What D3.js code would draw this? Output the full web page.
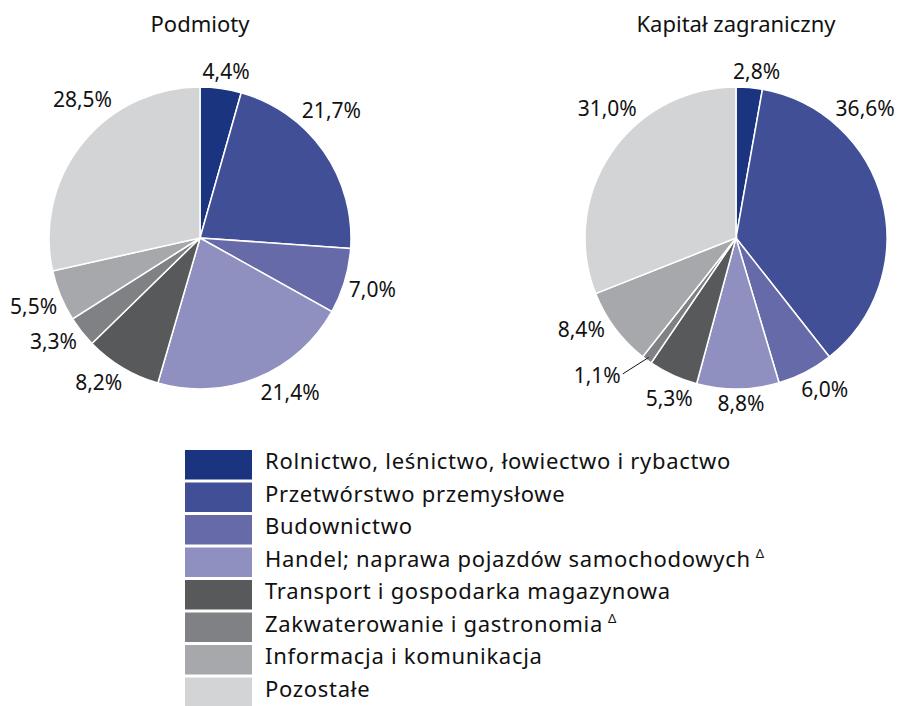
<!DOCTYPE html>
<html>
<head>
<meta charset="utf-8">
<script src="https://cdn.jsdelivr.net/npm/d3@7"></script>
<style>
  body { margin: 0; background: #fff; }
  svg { display: block; font-family: "Noto Sans", sans-serif; }
</style>
</head>
<body>
<svg id="chart" width="901" height="706"></svg>
<script>
// Data
const categories = [
  "Rolnictwo, leśnictwo, łowiectwo i rybactwo",
  "Przetwórstwo przemysłowe",
  "Budownictwo",
  "Handel; naprawa pojazdów samochodowych Δ",
  "Transport i gospodarka magazynowa",
  "Zakwaterowanie i gastronomia Δ",
  "Informacja i komunikacja",
  "Pozostałe"
];
const podmioty = [4.4, 21.7, 7.0, 21.4, 8.2, 3.3, 5.5, 28.5];
const kapital = [2.8, 36.6, 6.0, 8.8, 5.3, 1.1, 8.4, 31.0];
const titles = ["Podmioty", "Kapitał zagraniczny"];
const colors = ["#1a3480", "#414f96", "#666aa8", "#8f90c0", "#58595b", "#808184", "#a7a8ab", "#d3d4d6"];

// label nudges in degrees (like dragged labels in the original)
const shiftPodmioty = [1, -9, 0, -8, 4, 3, 0, 11];
const shiftKapital = [2, -31, -3, -1, -2, 9, 6, 11];

const svg = d3.select("#chart");
const radius = 151;
const cy = 238;

const pie = d3.pie().sort(null).value(d => d);
const arc = d3.arc().innerRadius(0).outerRadius(radius);
const fmt = v => d3.format(".1f")(v).replace(".", ",") + "%";

function drawPie(values, shifts, cx, title) {
  const g = svg.append("g").attr("transform", `translate(${cx},${cy})`);

  svg.append("text")
    .attr("x", cx).attr("y", 32)
    .attr("text-anchor", "middle")
    .attr("font-size", 22)
    .attr("fill", "#111")
    .text(title);

  const arcs = pie(values);

  g.selectAll("path.slice")
    .data(arcs)
    .join("path")
    .attr("class", "slice")
    .attr("d", arc)
    .attr("fill", (d, i) => colors[i])
    .attr("stroke", "#fff")
    .attr("stroke-width", 1.5);

  arcs.forEach((d, i) => {
    const mid = (d.startAngle + d.endAngle) / 2;
    const a = mid + shifts[i] * Math.PI / 180;
    const t = g.append("text")
      .attr("text-anchor", "middle")
      .attr("dy", "0.36em")
      .attr("font-size", 21)
      .attr("fill", "#111")
      .text(fmt(d.data));
    const bb = t.node().getBBox();
    const small = d.data < 2;
    const gap = small ? 20 : 3;
    const dist = radius + gap + Math.abs(Math.sin(a)) * bb.width / 2 + Math.abs(Math.cos(a)) * bb.height / 2 * 0.8;
    const x = Math.sin(a) * dist, y = -Math.cos(a) * dist;
    t.attr("x", x).attr("y", y);
    if (small) {
      // leader line from label to slice edge
      const ex = Math.sin(mid) * (radius - 3), ey = -Math.cos(mid) * (radius - 3);
      g.append("line")
        .attr("x1", x + bb.width / 2 + 2).attr("y1", y - 2)
        .attr("x2", ex).attr("y2", ey)
        .attr("stroke", "#111").attr("stroke-width", 1);
    }
  });
}

drawPie(podmioty, shiftPodmioty, 200, titles[0]);
drawPie(kapital, shiftKapital, 736, titles[1]);

// legend
const legend = svg.append("g");
const rowH = 32.5, top0 = 450;
categories.forEach((c, i) => {
  const y = top0 + i * rowH;
  legend.append("rect")
    .attr("x", 185).attr("y", y)
    .attr("width", 67).attr("height", 29.5)
    .attr("fill", colors[i]);
  const marked = c.endsWith(" Δ");
  const t = legend.append("text")
    .attr("x", 265).attr("y", y + 19)
    .attr("font-size", 22)
    .attr("letter-spacing", 0.7)
    .attr("fill", "#111")
    .text(marked ? c.slice(0, -2) : c);
  if (marked) {
    t.append("tspan").attr("font-size", 13).attr("dx", 5).attr("dy", -9).text("Δ");
  }
});
</script>
</body>
</html>
